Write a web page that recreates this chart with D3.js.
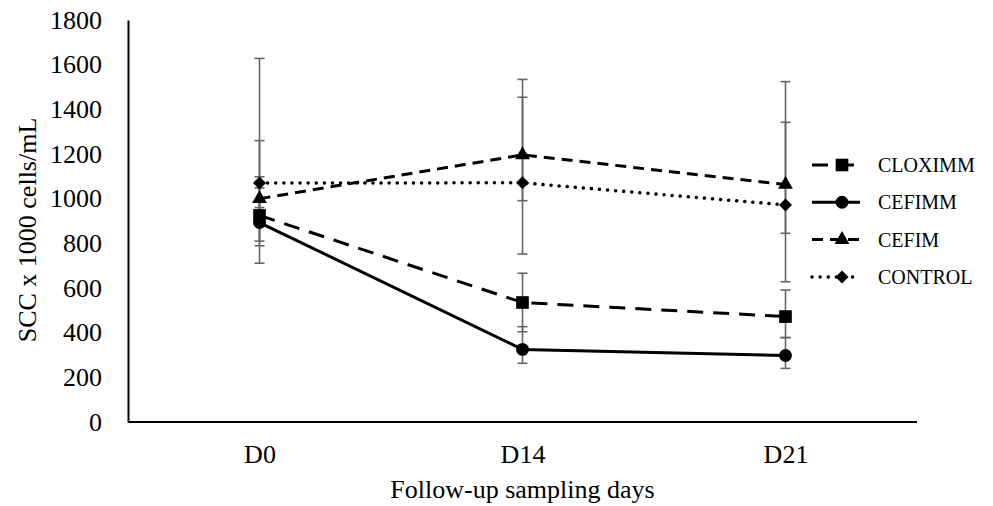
<!DOCTYPE html>
<html>
<head>
<meta charset="utf-8">
<script src="https://cdn.jsdelivr.net/npm/d3@7"></script>
<style>
 body { margin: 0; background: #fff; }
 svg { display: block; }
 svg text { font-family: "Liberation Serif", "Times New Roman", serif; }
</style>
</head>
<body>
<div id="chart"></div>
<script>
const days = ["D0", "D14", "D21"];
const yTicks = [0, 200, 400, 600, 800, 1000, 1200, 1400, 1600, 1800];

const seriesNames = ["CLOXIMM", "CEFIMM", "CEFIM", "CONTROL"];
const cloximm = [925, 535, 472];
const cefimm = [893, 325, 298];
const cefim = [1000, 1196, 1063];
const control = [1070, 1071, 972];

// error bar ends (low / high)
const cloximmLow = [810, 404, 378];
const cloximmHigh = [1048, 666, 591];
const cefimmLow = [789, 263, 240];
const cefimmHigh = [1098, 427, 378];
const cefimLow = [960, 752, 628];
const cefimHigh = [1260, 1534, 1524];
const controlLow = [711, 991, 845];
const controlHigh = [1628, 1454, 1342];

const drawChart = (element) => {
 const width = 993, height = 506;
 const margin = { top: 20, right: 76, bottom: 84, left: 128 };
 const dotted = "0.1,8";
 const serif = "'Liberation Serif', 'Times New Roman', serif";

 const series = [
  { name: seriesNames[0], values: cloximm, low: cloximmLow, high: cloximmHigh, dash: "16,10", symbol: d3.symbolSquare, size: 160, rotate: 0 },
  { name: seriesNames[1], values: cefimm, low: cefimmLow, high: cefimmHigh, dash: null, symbol: d3.symbolCircle, size: 130, rotate: 0 },
  { name: seriesNames[2], values: cefim, low: cefimLow, high: cefimHigh, dash: "11,7", symbol: d3.symbolTriangle, size: 95, rotate: 0 },
  { name: seriesNames[3], values: control, low: controlLow, high: controlHigh, dash: dotted, symbol: d3.symbolSquare, size: 85, rotate: 45 }
 ];

 d3.select(element).select("svg").remove();
 const svg = d3
  .select(element)
  .append("svg")
  .attr("width", width)
  .attr("height", height);

 const x = d3
  .scalePoint()
  .domain(days)
  .range([margin.left, width - margin.right])
  .padding(0.5);

 const y = d3
  .scaleLinear()
  .domain([0, 1800])
  .range([height - margin.bottom, margin.top]);

 // axes
 const yAxis = svg
  .append("g")
  .attr("transform", `translate(${margin.left},0)`)
  .call(d3.axisLeft(y).tickValues(yTicks).tickFormat(d3.format("d")).tickSize(0).tickSizeOuter(0).tickPadding(26));
 yAxis.attr("font-family", serif).attr("font-size", 26);
 yAxis.select(".domain").attr("stroke", "#000").attr("stroke-width", 2);
 yAxis.selectAll("text").style("font-family", serif).style("font-size", "26px").attr("fill", "#000");

 const xAxis = svg
  .append("g")
  .attr("transform", `translate(0,${height - margin.bottom})`)
  .call(d3.axisBottom(x).tickSize(0).tickSizeOuter(0));
 xAxis.attr("font-family", serif).attr("font-size", 26);
 xAxis.select(".domain").attr("stroke", "#000").attr("stroke-width", 2)
  .attr("d", `M${margin.left},0H${width - margin.right}`);
 xAxis.selectAll("text")
  .style("font-family", serif)
  .style("font-size", "26px")
  .attr("fill", "#000")
  .attr("y", 41)
  .attr("dy", 0);

 svg.append("text")
  .attr("x", (margin.left + width - margin.right) / 2)
  .attr("y", 498)
  .attr("text-anchor", "middle")
  .style("font-size", "26px")
  .text("Follow-up sampling days");

 svg.append("text")
  .attr("transform", `translate(36,${(height - margin.bottom + margin.top) / 2 + 9}) rotate(-90)`)
  .attr("text-anchor", "middle")
  .style("font-size", "26px")
  .text("SCC x 1000 cells/mL");

 // error bars
 const errG = svg.append("g").attr("stroke", "#666").attr("stroke-width", 1.6).attr("fill", "none");
 series.forEach((s) => {
  days.forEach((d, i) => {
   const cx = x(d);
   errG.append("line").attr("x1", cx).attr("x2", cx).attr("y1", y(s.low[i])).attr("y2", y(s.high[i]));
   [s.low[i], s.high[i]].forEach((v) => {
    errG.append("line").attr("x1", cx - 5).attr("x2", cx + 5).attr("y1", y(v)).attr("y2", y(v));
   });
  });
 });

 // lines
 const line = d3.line().x((d, i) => x(days[i])).y((d) => y(d));
 series.forEach((s) => {
  svg.append("path")
   .datum(s.values)
   .attr("d", line)
   .attr("fill", "none")
   .attr("stroke", "#000")
   .attr("stroke-width", s.dash === dotted ? 3.5 : 3)
   .attr("stroke-linecap", s.dash === dotted ? "round" : "butt")
   .attr("stroke-dasharray", s.dash);
 });

 // markers
 series.forEach((s) => {
  const sym = d3.symbol().type(s.symbol).size(s.size);
  svg.append("g")
   .selectAll("path")
   .data(s.values)
   .join("path")
   .attr("d", sym)
   .attr("fill", "#000")
   .attr("transform", (d, i) => `translate(${x(days[i])},${y(d)}) rotate(${s.rotate})`);
 });

 // legend
 const legend = svg.append("g").attr("transform", "translate(812,165)");
 series.forEach((s, i) => {
  const row = legend.append("g").attr("transform", `translate(0,${i * 37.3})`);
  row.append("line")
   .attr("x1", 0).attr("x2", 48).attr("y1", 0).attr("y2", 0)
   .attr("stroke", "#000")
   .attr("stroke-width", s.dash === dotted ? 3.5 : 3)
   .attr("stroke-linecap", s.dash === dotted ? "round" : "butt")
   .attr("stroke-dasharray", s.dash);
  row.append("path")
   .attr("d", d3.symbol().type(s.symbol).size(s.size))
   .attr("fill", "#000")
   .attr("transform", `translate(30,0) rotate(${s.rotate})`);
  row.append("text")
   .attr("x", 66)
   .attr("y", 7)
   .style("font-size", "20px")
   .text(s.name);
 });
};

drawChart(document.getElementById("chart"));
</script>
</body>
</html>
